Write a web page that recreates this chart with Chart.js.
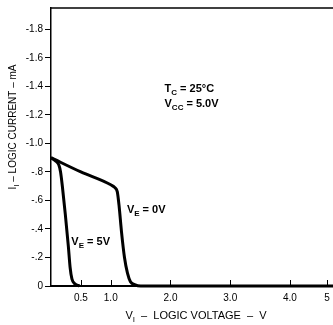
<!DOCTYPE html>
<html>
<head>
<meta charset="utf-8">
<script src="https://cdn.jsdelivr.net/npm/chart.js@4.4.1/dist/chart.umd.min.js"></script>
<style>
  html, body { margin: 0; padding: 0; background: #fff; overflow: hidden; }
  #wrap { width: 333px; height: 325px; }
</style>
</head>
<body>
<div id="wrap"><canvas id="chart" width="333" height="325"></canvas></div>
<script>
// ==============================
// Chart data
// ==============================
const xTickValues = [0.5, 1.0, 2.0, 3.0, 4.0, 4.62];
const xTickLabels = ["0.5", "1.0", "2.0", "3.0", "4.0", "5"];
const yTickValues = [0, -0.2, -0.4, -0.6, -0.8, -1.0, -1.2, -1.4, -1.6, -1.8];

// V_E = 0V curve
const ve0Volts = [0, 0.5, 1.0, 1.07, 1.11, 1.14, 1.18, 1.23, 1.28, 1.33, 1.4, 1.5, 4.72];
const ve0Current = [-0.9, -0.8, -0.71, -0.69, -0.66, -0.56, -0.38, -0.2, -0.09, -0.03, -0.01, 0, 0];

// V_E = 5V curve
const ve5Volts = [0, 0.08, 0.13, 0.16, 0.19, 0.24, 0.29, 0.32, 0.35, 0.4, 0.48];
const ve5Current = [-0.9, -0.875, -0.85, -0.8, -0.7, -0.5, -0.28, -0.13, -0.05, -0.015, 0];

const FONT = "'Liberation Sans', Arial, sans-serif";

function toPoints(xs, ys) {
  return xs.map((x, i) => ({ x: x, y: ys[i] }));
}

// draw a string made of [text, isSubscript] pieces
function drawParts(ctx, parts, x, y, size, bold) {
  let cx = x;
  parts.forEach(([txt, sub]) => {
    const s = sub ? Math.round(size * 0.75) : size;
    ctx.font = (bold ? "bold " : "") + s + "px " + FONT;
    ctx.fillText(txt, cx, sub ? y + 3 : y);
    cx += ctx.measureText(txt).width;
  });
  return cx - x;
}

function partsWidth(ctx, parts, size, bold) {
  let w = 0;
  parts.forEach(([txt, sub]) => {
    const s = sub ? Math.round(size * 0.75) : size;
    ctx.font = (bold ? "bold " : "") + s + "px " + FONT;
    w += ctx.measureText(txt).width;
  });
  return w;
}

// ==============================
// Frame, inward x ticks, labels
// ==============================
const extrasPlugin = {
  id: "extras",
  afterDraw(chart) {
    const ctx = chart.ctx;
    const area = chart.chartArea;
    const xs = chart.scales.x;
    const ys = chart.scales.y;
    ctx.save();
    ctx.strokeStyle = "#000";
    ctx.fillStyle = "#000";

    // top border
    ctx.lineWidth = 1.5;
    ctx.beginPath();
    ctx.moveTo(area.left, area.top);
    ctx.lineTo(area.right, area.top);
    ctx.stroke();

    // inward x ticks
    ctx.lineWidth = 1;
    xTickValues.forEach((v) => {
      const px = Math.round(xs.getPixelForValue(v)) + 0.5;
      ctx.beginPath();
      ctx.moveTo(px, area.bottom);
      ctx.lineTo(px, area.bottom - 6);
      ctx.stroke();
    });

    ctx.textBaseline = "alphabetic";
    ctx.textAlign = "left";

    // curve labels
    drawParts(ctx, [["V", false], ["E", true], [" = 0V", false]],
      xs.getPixelForValue(1.27), ys.getPixelForValue(-0.51), 11, true);
    drawParts(ctx, [["V", false], ["E", true], [" = 5V", false]],
      xs.getPixelForValue(0.34), ys.getPixelForValue(-0.29), 11, true);

    // conditions
    drawParts(ctx, [["T", false], ["C", true], [" = 25°C", false]],
      xs.getPixelForValue(1.9), ys.getPixelForValue(-1.36), 11, true);
    drawParts(ctx, [["V", false], ["CC", true], [" = 5.0V", false]],
      xs.getPixelForValue(1.9), ys.getPixelForValue(-1.255), 11, true);

    // x axis title
    const xt = [["V", false], ["I", true], ["  \u2013  LOGIC VOLTAGE  \u2013  V", false]];
    const xw = partsWidth(ctx, xt, 11, false);
    drawParts(ctx, xt, 196 - xw / 2, 319, 11, false);

    // y axis title (rotated)
    const yt = [["I", false], ["I", true], [" \u2013 LOGIC CURRENT \u2013 mA", false]];
    const yw = partsWidth(ctx, yt, 10, false);
    ctx.translate(16, 127);
    ctx.rotate(-Math.PI / 2);
    drawParts(ctx, yt, -yw / 2, 0, 10, false);

    ctx.restore();
  },
};

const ctx = document.getElementById("chart").getContext("2d");
new Chart(ctx, {
  type: "scatter",
  data: {
    datasets: [
      {
        label: "VE = 0V",
        data: toPoints(ve0Volts, ve0Current),
        showLine: true,
        borderColor: "#000",
        borderWidth: 3,
        pointRadius: 0,
        cubicInterpolationMode: "monotone",
        clip: 6,
      },
      {
        label: "VE = 5V",
        data: toPoints(ve5Volts, ve5Current),
        showLine: true,
        borderColor: "#000",
        borderWidth: 3,
        pointRadius: 0,
        cubicInterpolationMode: "monotone",
        clip: 6,
      },
    ],
  },
  options: {
    responsive: false,
    animation: false,
    layout: { padding: { left: 0, right: 0, top: 8, bottom: 0 } },
    plugins: {
      legend: { display: false },
      tooltip: { enabled: false },
    },
    scales: {
      x: {
        type: "linear",
        min: 0,
        max: 4.72,
        afterBuildTicks: (scale) => {
          scale.ticks = xTickValues.map((v) => ({ value: v }));
        },
        afterFit: (scale) => { scale.height = 39; },
        ticks: {
          color: "#000",
          font: { family: FONT, size: 10 },
          padding: -2,
          maxRotation: 0,
          callback: (v, i) => xTickLabels[i],
        },
        grid: { display: false },
        border: { display: true, color: "#000", width: 2 },
      },
      y: {
        type: "linear",
        min: -1.95,
        max: 0,
        reverse: true,
        afterBuildTicks: (scale) => {
          scale.ticks = yTickValues.map((v) => ({ value: v }));
        },
        afterFit: (scale) => { scale.width = 51; },
        ticks: {
          color: "#000",
          font: { family: FONT, size: 10 },
          padding: 2,
          callback: (v) => {
            if (Math.abs(v) < 1e-9) return "0";
            if (Math.abs(v) < 0.999) return "-." + Math.round(Math.abs(v) * 10);
            return v.toFixed(1);
          },
        },
        grid: {
          display: true,
          drawOnChartArea: false,
          drawTicks: true,
          tickLength: 6,
          color: "#000",
        },
        border: { display: true, color: "#000", width: 1.5 },
      },
    },
  },
  plugins: [extrasPlugin],
});
</script>
</body>
</html>
